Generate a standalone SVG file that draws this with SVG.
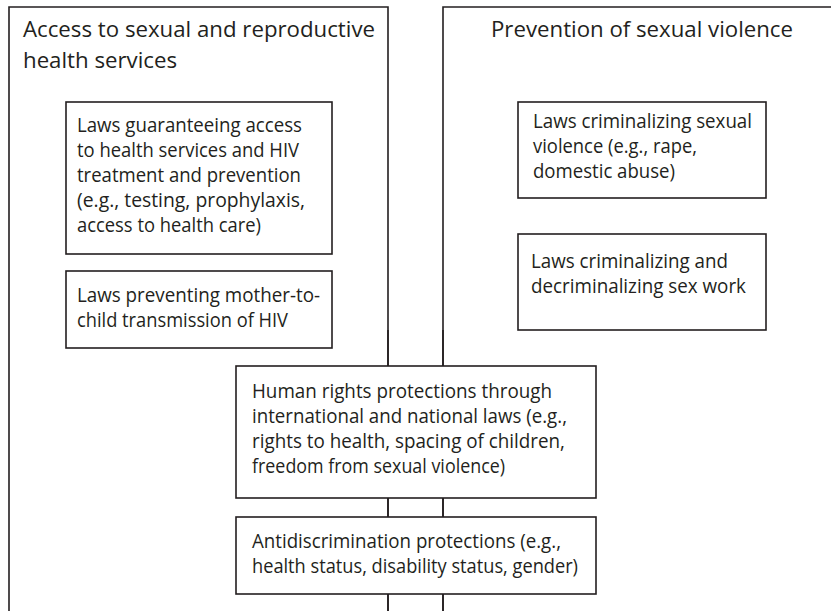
<svg xmlns="http://www.w3.org/2000/svg" width="831" height="611" viewBox="0 0 831 611">
<style>
.frame{fill:none;stroke:#231f20;stroke-width:1.6}
.box{fill:#fff;stroke:#231f20;stroke-width:1.6}
text{font-family:"Open Sans","Liberation Sans",sans-serif;fill:#231f20}
.t{font-size:22.5px}
.b{font-size:19.5px}
</style>
<rect width="831" height="611" fill="#fff"/>
<g id="connectors">
<path class="frame" d="M388,330 V611"/>
<path class="frame" d="M443,330 V611"/>
</g>
<g id="access-group">
<path class="frame" d="M9,611 V7 H388 V611"/>
<text class="t" x="23" y="37" textLength="352" lengthAdjust="spacingAndGlyphs">Access to sexual and reproductive</text>
<text class="t" x="23" y="68" textLength="154" lengthAdjust="spacingAndGlyphs">health services</text>
</g>
<g id="prevention-group">
<path class="frame" d="M443,611 V7 H831"/>
<text class="t" x="491" y="37" textLength="302" lengthAdjust="spacingAndGlyphs">Prevention of sexual violence</text>
</g>
<g id="node-hiv-access">
<rect class="box" x="66" y="102" width="266" height="152"/>
<text class="b" x="77" y="132" textLength="225" lengthAdjust="spacingAndGlyphs">Laws guaranteeing access</text>
<text class="b" x="77" y="157" textLength="222" lengthAdjust="spacingAndGlyphs">to health services and HIV</text>
<text class="b" x="77" y="182" textLength="224" lengthAdjust="spacingAndGlyphs">treatment and prevention</text>
<text class="b" x="77" y="207" textLength="228" lengthAdjust="spacingAndGlyphs">(e.g., testing, prophylaxis,</text>
<text class="b" x="77" y="232" textLength="184" lengthAdjust="spacingAndGlyphs">access to health care)</text>
</g>
<g id="node-mtct">
<rect class="box" x="66" y="271" width="266" height="77"/>
<text class="b" x="77" y="302" textLength="243" lengthAdjust="spacingAndGlyphs">Laws preventing mother-to-</text>
<text class="b" x="77" y="327" textLength="211" lengthAdjust="spacingAndGlyphs">child transmission of HIV</text>
</g>
<g id="node-sexual-violence">
<rect class="box" x="518" y="102" width="248" height="96"/>
<text class="b" x="533" y="128" textLength="219" lengthAdjust="spacingAndGlyphs">Laws criminalizing sexual</text>
<text class="b" x="533" y="153" textLength="164" lengthAdjust="spacingAndGlyphs">violence (e.g., rape,</text>
<text class="b" x="533" y="178" textLength="142" lengthAdjust="spacingAndGlyphs">domestic abuse)</text>
</g>
<g id="node-sex-work">
<rect class="box" x="518" y="234" width="248" height="96"/>
<text class="b" x="531" y="268" textLength="197" lengthAdjust="spacingAndGlyphs">Laws criminalizing and</text>
<text class="b" x="531" y="293" textLength="215" lengthAdjust="spacingAndGlyphs">decriminalizing sex work</text>
</g>
<g id="node-human-rights">
<rect class="box" x="236" y="366" width="360" height="132"/>
<text class="b" x="252" y="398" textLength="300" lengthAdjust="spacingAndGlyphs">Human rights protections through</text>
<text class="b" x="252" y="423" textLength="315" lengthAdjust="spacingAndGlyphs">international and national laws (e.g.,</text>
<text class="b" x="252" y="448" textLength="313" lengthAdjust="spacingAndGlyphs">rights to health, spacing of children,</text>
<text class="b" x="252" y="473" textLength="253" lengthAdjust="spacingAndGlyphs">freedom from sexual violence)</text>
</g>
<g id="node-antidiscrimination">
<rect class="box" x="236" y="517" width="360" height="77"/>
<text class="b" x="252" y="548" textLength="309" lengthAdjust="spacingAndGlyphs">Antidiscrimination protections (e.g.,</text>
<text class="b" x="252" y="573" textLength="326" lengthAdjust="spacingAndGlyphs">health status, disability status, gender)</text>
</g>
</svg>
